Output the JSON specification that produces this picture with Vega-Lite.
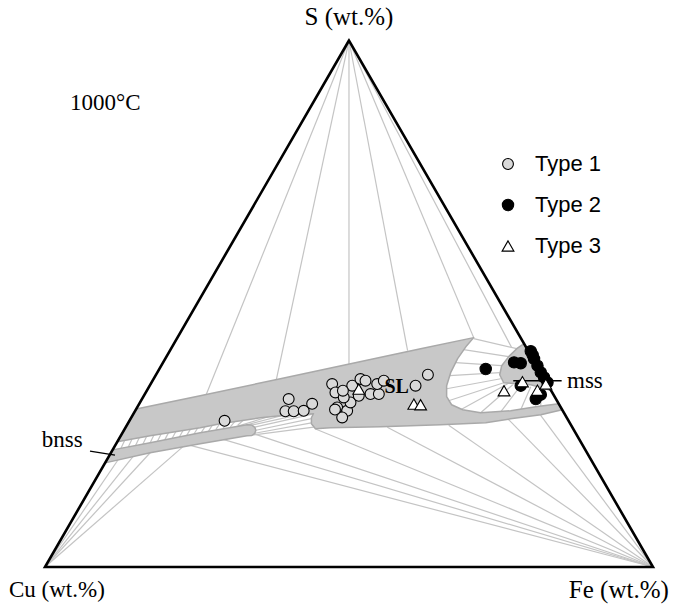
{
  "$schema": "https://vega.github.io/schema/vega-lite/v6.json",
  "width": 679,
  "height": 606,
  "autosize": {"type": "fit", "contains": "padding"},
  "padding": 0,
  "background": "white",
  "config": {"view": {"stroke": null}},
  "datasets": {
    "frame": [
      {"x": 0, "y": 0, "i": 0}, {"x": 50, "y": 86.6, "i": 1}, {"x": 100, "y": 0, "i": 2}, {"x": 0, "y": 0, "i": 3}, {"x": 50, "y": 86.6, "i": 4}
    ],
    "polys": [
      {"id": "SL", "i": 0, "x": 15.0, "y": 26.0}, {"id": "SL", "i": 1, "x": 25.53, "y": 28.17}, {"id": "SL", "i": 2, "x": 38.71, "y": 30.97},
      {"id": "SL", "i": 3, "x": 50.25, "y": 33.44}, {"id": "SL", "i": 4, "x": 61.78, "y": 35.91}, {"id": "SL", "i": 5, "x": 70.51, "y": 37.73},
      {"id": "SL", "i": 6, "x": 69.36, "y": 36.41}, {"id": "SL", "i": 7, "x": 67.87, "y": 34.27}, {"id": "SL", "i": 8, "x": 66.72, "y": 31.96},
      {"id": "SL", "i": 9, "x": 66.06, "y": 29.82}, {"id": "SL", "i": 10, "x": 66.06, "y": 28.01}, {"id": "SL", "i": 11, "x": 66.88, "y": 26.69},
      {"id": "SL", "i": 12, "x": 68.7, "y": 25.86}, {"id": "SL", "i": 13, "x": 71.66, "y": 25.37}, {"id": "SL", "i": 14, "x": 76.6, "y": 25.7},
      {"id": "SL", "i": 15, "x": 80.72, "y": 26.36}, {"id": "SL", "i": 16, "x": 84.5, "y": 26.85}, {"id": "SL", "i": 17, "x": 85.07, "y": 25.86},
      {"id": "SL", "i": 18, "x": 81.55, "y": 25.04}, {"id": "SL", "i": 19, "x": 76.6, "y": 24.38}, {"id": "SL", "i": 20, "x": 72.49, "y": 23.72},
      {"id": "SL", "i": 21, "x": 65.07, "y": 23.39}, {"id": "SL", "i": 22, "x": 55.19, "y": 23.06}, {"id": "SL", "i": 23, "x": 46.95, "y": 22.9},
      {"id": "SL", "i": 24, "x": 44.48, "y": 22.73}, {"id": "SL", "i": 25, "x": 43.82, "y": 23.56}, {"id": "SL", "i": 26, "x": 43.82, "y": 24.55},
      {"id": "SL", "i": 27, "x": 44.15, "y": 25.21}, {"id": "SL", "i": 28, "x": 40.36, "y": 25.04}, {"id": "SL", "i": 29, "x": 35.42, "y": 24.55},
      {"id": "SL", "i": 30, "x": 28.83, "y": 23.56}, {"id": "SL", "i": 31, "x": 25.53, "y": 22.9}, {"id": "SL", "i": 32, "x": 17.3, "y": 21.58},
      {"id": "SL", "i": 33, "x": 11.89, "y": 20.59}, {"id": "SL", "i": 34, "x": 15.0, "y": 26.0},
      {"id": "bnss", "i": 0, "x": 11.13, "y": 19.27}, {"id": "bnss", "i": 1, "x": 17.3, "y": 20.43}, {"id": "bnss", "i": 2, "x": 25.53, "y": 22.08},
      {"id": "bnss", "i": 3, "x": 33.23, "y": 23.39}, {"id": "bnss", "i": 4, "x": 34.02, "y": 23.34}, {"id": "bnss", "i": 5, "x": 34.51, "y": 22.98},
      {"id": "bnss", "i": 6, "x": 34.68, "y": 22.49}, {"id": "bnss", "i": 7, "x": 34.51, "y": 21.99}, {"id": "bnss", "i": 8, "x": 34.02, "y": 21.63},
      {"id": "bnss", "i": 9, "x": 33.23, "y": 21.58}, {"id": "bnss", "i": 10, "x": 25.53, "y": 20.26}, {"id": "bnss", "i": 11, "x": 17.3, "y": 18.78},
      {"id": "bnss", "i": 12, "x": 9.89, "y": 17.13}, {"id": "bnss", "i": 13, "x": 11.13, "y": 19.27},
      {"id": "mss", "i": 0, "x": 78.79, "y": 36.74}, {"id": "mss", "i": 1, "x": 83.26, "y": 28.99}, {"id": "mss", "i": 2, "x": 82.37, "y": 29.32},
      {"id": "mss", "i": 3, "x": 79.9, "y": 29.98}, {"id": "mss", "i": 4, "x": 77.43, "y": 30.15}, {"id": "mss", "i": 5, "x": 75.45, "y": 30.31},
      {"id": "mss", "i": 6, "x": 74.79, "y": 31.63}, {"id": "mss", "i": 7, "x": 75.12, "y": 33.11}, {"id": "mss", "i": 8, "x": 76.27, "y": 34.6},
      {"id": "mss", "i": 9, "x": 77.59, "y": 35.91}, {"id": "mss", "i": 10, "x": 78.79, "y": 36.74}
    ],
    "ties": [
      {"x": 50, "y": 86.6, "x2": 26.52, "y2": 28.38}, {"x": 50, "y": 86.6, "x2": 38.05, "y2": 30.81}, {"x": 50, "y": 86.6, "x2": 50.0, "y2": 33.4},
      {"x": 50, "y": 86.6, "x2": 59.64, "y2": 35.58}, {"x": 50, "y": 86.6, "x2": 70.51, "y2": 37.73}, {"x": 50, "y": 86.6, "x2": 76.77, "y2": 36.08},
      {"x": 0, "y": 0, "x2": 12.0, "y2": 17.6}, {"x": 0, "y": 0, "x2": 14.5, "y2": 18.2}, {"x": 0, "y": 0, "x2": 17.3, "y2": 18.8}, {"x": 0, "y": 0, "x2": 22.7, "y2": 19.8},
      {"x": 100, "y": 0, "x2": 23.9, "y2": 20.0}, {"x": 100, "y": 0, "x2": 29.3, "y2": 21.0}, {"x": 100, "y": 0, "x2": 34.4, "y2": 21.9},
      {"x": 100, "y": 0, "x2": 44.5, "y2": 22.7}, {"x": 100, "y": 0, "x2": 56.3, "y2": 23.0}, {"x": 100, "y": 0, "x2": 66.4, "y2": 23.3},
      {"x": 100, "y": 0, "x2": 76.1, "y2": 24.4}, {"x": 100, "y": 0, "x2": 81.5, "y2": 25.0},
      {"x": 77.59, "y": 35.91, "x2": 70.51, "y2": 37.56}, {"x": 76.27, "y": 34.6, "x2": 68.86, "y2": 35.75}, {"x": 75.12, "y": 33.11, "x2": 67.54, "y2": 33.61},
      {"x": 74.79, "y": 31.96, "x2": 66.55, "y2": 31.47}, {"x": 74.96, "y": 30.97, "x2": 66.06, "y2": 29.32}, {"x": 75.45, "y": 30.31, "x2": 66.39, "y2": 27.35},
      {"x": 76.11, "y": 30.15, "x2": 68.37, "y2": 25.86}, {"x": 76.93, "y": 29.98, "x2": 71.66, "y2": 25.37}, {"x": 78.25, "y": 29.82, "x2": 74.96, "y2": 25.53},
      {"x": 79.9, "y": 29.65, "x2": 78.25, "y2": 25.86}, {"x": 81.55, "y": 29.32, "x2": 81.55, "y2": 26.36},
      {"x": 33.2, "y": 23.39, "x2": 39.54, "y2": 25.04}, {"x": 34.0, "y": 23.34, "x2": 42.01, "y2": 25.12}, {"x": 34.5, "y": 23.0, "x2": 43.82, "y2": 25.1},
      {"x": 34.7, "y": 22.5, "x2": 43.82, "y2": 24.4}, {"x": 34.5, "y": 22.0, "x2": 43.82, "y2": 23.7}, {"x": 34.0, "y": 21.7, "x2": 44.2, "y2": 23.0},
      {"x": 31.3, "y": 23.06, "x2": 36.74, "y2": 24.71},
      {"x": 12.5, "y": 19.53, "x2": 13.1, "y2": 20.81}, {"x": 13.7, "y": 19.75, "x2": 14.3, "y2": 21.03}, {"x": 14.9, "y": 19.98, "x2": 15.5, "y2": 21.25},
      {"x": 16.1, "y": 20.2, "x2": 16.7, "y2": 21.47}, {"x": 17.3, "y": 20.43, "x2": 17.9, "y2": 21.68}, {"x": 18.5, "y": 20.67, "x2": 19.1, "y2": 21.87},
      {"x": 19.7, "y": 20.91, "x2": 20.3, "y2": 22.06}, {"x": 20.9, "y": 21.15, "x2": 21.5, "y2": 22.25}, {"x": 22.1, "y": 21.39, "x2": 22.7, "y2": 22.45},
      {"x": 23.3, "y": 21.63, "x2": 23.9, "y2": 22.64}, {"x": 24.5, "y": 21.87, "x2": 25.1, "y2": 22.83}, {"x": 25.7, "y": 22.11, "x2": 26.3, "y2": 23.05},
      {"x": 26.9, "y": 22.35, "x2": 27.5, "y2": 23.29}, {"x": 28.1, "y": 22.59, "x2": 28.7, "y2": 23.53}, {"x": 29.3, "y": 22.83, "x2": 29.9, "y2": 23.72},
      {"x": 30.5, "y": 23.07, "x2": 31.2, "y2": 23.92}, {"x": 31.7, "y": 23.31, "x2": 32.6, "y2": 24.13}
    ],
    "leaders": [
      {"x": 77.02, "y": 30.64, "x2": 84.98, "y2": 30.64},
      {"x": 7.4, "y": 19.08, "x2": 11.51, "y2": 18.42}
    ],
    "pts": [
      {"type": "Type 1", "x": 29.54, "y": 24.05}, {"type": "Type 1", "x": 40.08, "y": 27.63}, {"type": "Type 1", "x": 39.54, "y": 25.62},
      {"type": "Type 1", "x": 40.91, "y": 25.62}, {"type": "Type 1", "x": 42.55, "y": 25.7}, {"type": "Type 1", "x": 43.94, "y": 26.85},
      {"type": "Type 1", "x": 47.23, "y": 30.1}, {"type": "Type 1", "x": 47.77, "y": 28.71}, {"type": "Type 1", "x": 48.05, "y": 26.24},
      {"type": "Type 1", "x": 49.7, "y": 25.7}, {"type": "Type 1", "x": 50.25, "y": 27.07}, {"type": "Type 1", "x": 49.14, "y": 27.89},
      {"type": "Type 1", "x": 50.53, "y": 29.82}, {"type": "Type 1", "x": 51.89, "y": 30.92}, {"type": "Type 1", "x": 52.72, "y": 30.64},
      {"type": "Type 1", "x": 51.61, "y": 28.17}, {"type": "Type 1", "x": 53.54, "y": 28.45}, {"type": "Type 1", "x": 54.91, "y": 28.45},
      {"type": "Type 1", "x": 54.64, "y": 30.1}, {"type": "Type 1", "x": 55.73, "y": 30.64}, {"type": "Type 1", "x": 60.95, "y": 29.82},
      {"type": "Type 1", "x": 62.98, "y": 31.63}, {"type": "Type 1", "x": 48.88, "y": 24.6}, {"type": "Type 1", "x": 47.7, "y": 25.9},
      {"type": "Type 1", "x": 49.0, "y": 29.0},
      {"type": "Type 2", "x": 72.49, "y": 32.57}, {"type": "Type 2", "x": 77.15, "y": 33.66}, {"type": "Type 2", "x": 78.25, "y": 33.52},
      {"type": "Type 2", "x": 79.9, "y": 35.5}, {"type": "Type 2", "x": 80.2, "y": 34.9}, {"type": "Type 2", "x": 80.44, "y": 34.22},
      {"type": "Type 2", "x": 81.0, "y": 33.11}, {"type": "Type 2", "x": 81.55, "y": 32.01}, {"type": "Type 2", "x": 82.09, "y": 31.19},
      {"type": "Type 2", "x": 82.65, "y": 30.36}, {"type": "Type 2", "x": 78.25, "y": 29.82}, {"type": "Type 2", "x": 80.72, "y": 27.63},
      {"type": "Type 2", "x": 81.55, "y": 28.34},
      {"type": "Type 3", "x": 51.61, "y": 29.27}, {"type": "Type 3", "x": 60.67, "y": 26.8}, {"type": "Type 3", "x": 61.78, "y": 26.69},
      {"type": "Type 3", "x": 75.5, "y": 28.99}, {"type": "Type 3", "x": 78.53, "y": 30.48}, {"type": "Type 3", "x": 81.0, "y": 29.08},
      {"type": "Type 3", "x": 82.37, "y": 30.1}
    ],
    "labels": [
      {"text": "Cu (wt.%)", "pos": "left", "x": -5.92, "y": -3.78},
      {"text": "1000°C", "pos": "left", "x": 4.11, "y": 76.3},
      {"text": "mss", "pos": "left", "x": 85.86, "y": 30.64},
      {"text": "bnss", "pos": "left", "x": -0.54, "y": 20.89},
      {"text": "S (wt.%)", "pos": "center", "x": 50, "y": 90.46},
      {"text": "Fe (wt.%)", "pos": "right", "x": 102.6, "y": -3.78},
      {"text": "SL", "pos": "bold", "x": 57.84, "y": 29.65}
    ]
  },
  "encoding": {
    "x": {"field": "x", "type": "quantitative", "scale": {"domain": [-7.4, 104.28], "nice": false, "zero": false}, "axis": null},
    "y": {"field": "y", "type": "quantitative", "scale": {"domain": [-6.41, 93.26], "nice": false, "zero": false}, "axis": null}
  },
  "layer": [
    {
      "data": {"name": "ties"},
      "mark": {"type": "rule", "stroke": "#c4c4c4", "strokeWidth": 1.2},
      "encoding": {"x2": {"field": "x2"}, "y2": {"field": "y2"}}
    },
    {
      "data": {"name": "polys"},
      "mark": {"type": "line", "fill": "#c8c8c8", "stroke": "#a9a9a9", "strokeWidth": 1.5, "strokeJoin": "round"},
      "encoding": {"detail": {"field": "id"}, "order": {"field": "i", "type": "quantitative"}}
    },
    {
      "data": {"name": "frame"},
      "mark": {"type": "line", "stroke": "#000000", "strokeWidth": 2.6, "strokeJoin": "miter"},
      "encoding": {"order": {"field": "i", "type": "quantitative"}}
    },
    {
      "data": {"name": "leaders"},
      "mark": {"type": "rule", "stroke": "#000000", "strokeWidth": 1.3},
      "encoding": {"x2": {"field": "x2"}, "y2": {"field": "y2"}}
    },
    {
      "data": {"name": "pts"},
      "mark": {"type": "point", "filled": true, "stroke": "#000000", "strokeWidth": 1.1, "opacity": 1},
      "encoding": {
        "fill": {"field": "type", "type": "nominal", "scale": {"domain": ["Type 1", "Type 2", "Type 3"], "range": ["#d9d9d9", "#000000", "#ffffff"]},
          "legend": {"title": null, "orient": "none", "legendX": 497, "legendY": 153, "padding": 0, "labelFont": "Liberation Sans", "labelFontSize": 22, "labelColor": "#000000", "labelOffset": 16, "rowPadding": 19, "symbolStrokeColor": "#000000", "symbolStrokeWidth": 1.1}},
        "shape": {"field": "type", "type": "nominal", "scale": {"domain": ["Type 1", "Type 2", "Type 3"], "range": ["circle", "circle", "triangle-up"]}},
        "size": {"field": "type", "type": "nominal", "scale": {"domain": ["Type 1", "Type 2", "Type 3"], "range": [118, 140, 175]}}
      }
    },
    {
      "data": {"name": "labels"},
      "transform": [{"filter": "datum.pos == 'left'"}],
      "mark": {"type": "text", "font": "Liberation Serif", "fontSize": 23, "align": "left", "baseline": "middle", "color": "#000000"},
      "encoding": {"text": {"field": "text"}}
    },
    {
      "data": {"name": "labels"},
      "transform": [{"filter": "datum.pos == 'center'"}],
      "mark": {"type": "text", "font": "Liberation Serif", "fontSize": 25, "align": "center", "baseline": "middle", "color": "#000000"},
      "encoding": {"text": {"field": "text"}}
    },
    {
      "data": {"name": "labels"},
      "transform": [{"filter": "datum.pos == 'right'"}],
      "mark": {"type": "text", "font": "Liberation Serif", "fontSize": 25, "align": "right", "baseline": "middle", "color": "#000000"},
      "encoding": {"text": {"field": "text"}}
    },
    {
      "data": {"name": "labels"},
      "transform": [{"filter": "datum.pos == 'bold'"}],
      "mark": {"type": "text", "font": "Liberation Serif", "fontSize": 20, "fontWeight": "bold", "align": "center", "baseline": "middle", "color": "#000000"},
      "encoding": {"text": {"field": "text"}}
    }
  ]
}
